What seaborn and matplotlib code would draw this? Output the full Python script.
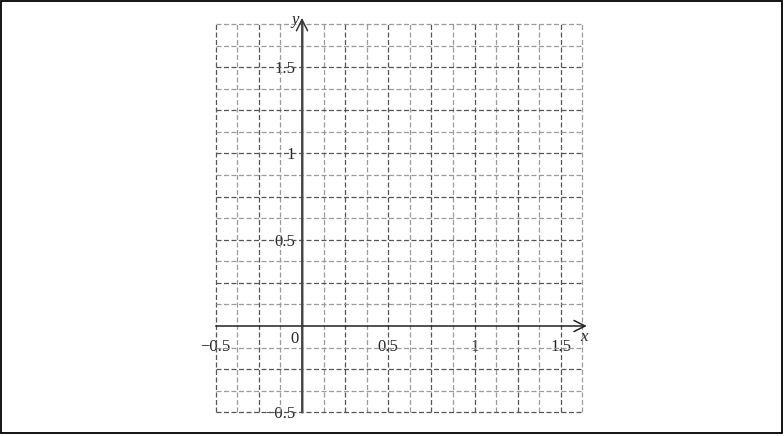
import numpy as np
import matplotlib
matplotlib.use("Agg")
import matplotlib.pyplot as plt
import seaborn as sns
from matplotlib.patches import Rectangle
from matplotlib.ticker import FixedLocator, FuncFormatter

# valores dos eixos
grade_x = [-0.5, -0.375, -0.25, -0.125, 0.125, 0.25, 0.375, 0.5, 0.625, 0.75,
           0.875, 1.0, 1.125, 1.25, 1.375, 1.5, 1.625]
grade_y = [-0.5, -0.375, -0.25, -0.125, 0.125, 0.25, 0.375, 0.5, 0.625, 0.75,
           0.875, 1.0, 1.125, 1.25, 1.375, 1.5, 1.625, 1.75]
ticks_maiores_x = [-0.5, -0.25, 0.25, 0.5, 0.75, 1.0, 1.25, 1.5]
ticks_maiores_y = [-0.5, -0.25, 0.25, 0.5, 0.75, 1.0, 1.25, 1.5]
rotulos = {-0.5: "\u22120.5", 0.5: "0.5", 1.0: "1", 1.5: "1.5"}

sns.set_style("white")
plt.rcParams['font.family'] = ['Liberation Serif', 'DejaVu Serif']

W, H = 784, 436
fig = plt.figure(figsize=(W / 100, H / 100), dpi=100)

# posição: origem em (302, 326) px, 172.6 px por unidade
esc = 172.6
x0, y0 = 302, 326
xlim = (-0.6, 1.8)
ylim = (-0.6, 1.85)
esq = x0 + xlim[0] * esc
dir_ = x0 + xlim[1] * esc
base = y0 - ylim[0] * esc
topo = y0 - ylim[1] * esc
ax = fig.add_axes([esq / W, (H - base) / H, (dir_ - esq) / W, (base - topo) / H])
ax.set_xlim(*xlim)
ax.set_ylim(*ylim)

# grade tracejada
for v in grade_x:
    cor = '#555555' if v in ticks_maiores_x else '#9a9a9a'
    ax.vlines(v, -0.5, 1.75, colors=cor, linestyles=(0, (4, 2)), linewidth=0.9, zorder=1)
for v in grade_y:
    cor = '#555555' if v in ticks_maiores_y else '#9a9a9a'
    ax.hlines(v, -0.5, 1.625, colors=cor, linestyles=(0, (4, 2)), linewidth=0.9, zorder=1)

# eixos com setas
ax.annotate('', xy=(1.65, 0), xytext=(-0.5, 0),
            arrowprops=dict(arrowstyle='->', color='#222222', lw=1.1, mutation_scale=20, shrinkA=0, shrinkB=0))
ax.annotate('', xy=(0, 1.785), xytext=(0, -0.5),
            arrowprops=dict(arrowstyle='->', color='#333333', lw=1.1, mutation_scale=20, shrinkA=0, shrinkB=0))
ax.plot([0, 0], [-0.5, 1.76], color='#888888', lw=1.8, zorder=2)

for s in ax.spines.values():
    s.set_visible(False)
ax.spines['bottom'].set_position(('data', 0))
ax.spines['left'].set_position(('data', 0))

fmt = FuncFormatter(lambda v, p: rotulos.get(round(v, 3), ''))
ax.xaxis.set_major_locator(FixedLocator(ticks_maiores_x))
ax.yaxis.set_major_locator(FixedLocator(ticks_maiores_y))
ax.xaxis.set_minor_locator(FixedLocator([v for v in grade_x if v not in ticks_maiores_x]))
ax.yaxis.set_minor_locator(FixedLocator([v for v in grade_y if v not in ticks_maiores_y and v < 1.7]))
ax.xaxis.set_major_formatter(fmt)
ax.yaxis.set_major_formatter(fmt)
ax.tick_params(which='major', direction='out', length=5, width=1, color='#111111',
               labelsize=12, pad=4)
ax.tick_params(which='minor', direction='out', length=3, width=1, color='#111111')
ax.tick_params(axis='y', which='major', pad=0)
ax.tick_params(axis='x', which='major', pad=4)

ax.text(-0.02, -0.03, '0', ha='right', va='top', fontsize=12)
ax.text(1.61, -0.064, 'x', ha='left', va='center', fontsize=12, style='italic')
ax.text(-0.04, 1.77, 'y', ha='center', va='center', fontsize=12, style='italic')

# moldura
fig.patches.append(Rectangle((1 / W, 3 / H), (W - 3) / W, (H - 4) / H, transform=fig.transFigure,
                             fill=False, edgecolor='black', linewidth=1.3))

fig.savefig('out.png', dpi=100)
